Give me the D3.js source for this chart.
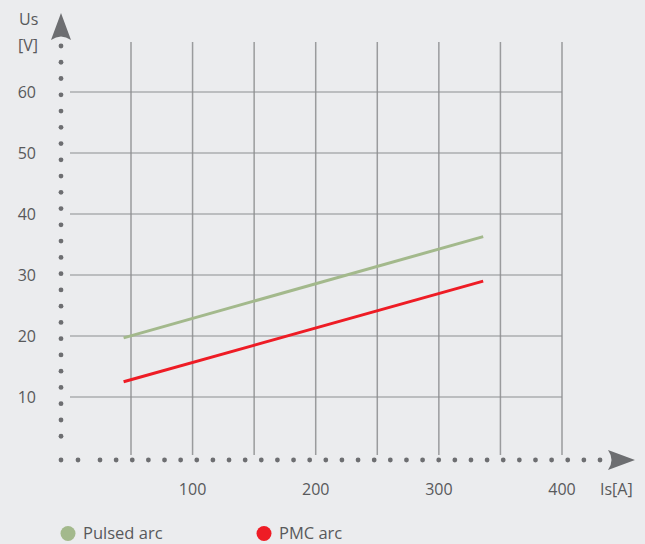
<!DOCTYPE html>
<html>
<head>
<meta charset="utf-8">
<script src="https://cdn.jsdelivr.net/npm/d3@7"></script>
<style>
  body { margin: 0; background: #ebecee; }
  svg { display: block; font-family: "Open Sans", sans-serif; }
</style>
</head>
<body>
<svg id="chart" width="645" height="544"></svg>
<script>
// data
const currentValues = [44, 336];
const pulsedArc = [19.7, 36.3];
const pmcArc = [12.5, 29.0];
const xTicks = [100, 200, 300, 400];
const xGrid = [50, 100, 150, 200, 250, 300, 350, 400];
const yTicks = [10, 20, 30, 40, 50, 60];
const seriesNames = ["Pulsed arc", "PMC arc"];
const seriesColors = ["#a3b98c", "#ee1c25"];

const svg = d3.select('#chart');
const textColor = "#58595b";
const dotColor = "#6d6e71";

const x = d3.scaleLinear().domain([50, 400]).range([131, 562]);
const y = d3.scaleLinear().domain([0, 60]).range([458, 92]);

const gridTop = 42;
const gridBottom = 455;
const gridLeft = 70;

// vertical grid lines
svg.append("g")
    .selectAll("line")
    .data(xGrid)
    .join("line")
    .attr("x1", d => x(d))
    .attr("x2", d => x(d))
    .attr("y1", gridTop)
    .attr("y2", gridBottom)
    .attr("stroke", "#9a9b9d")
    .attr("stroke-width", 1.5);

// horizontal grid lines
svg.append("g")
    .selectAll("line")
    .data(yTicks)
    .join("line")
    .attr("x1", gridLeft)
    .attr("x2", x(400))
    .attr("y1", d => y(d))
    .attr("y2", d => y(d))
    .attr("stroke", "#8c8d8f")
    .attr("stroke-width", 1.2);

// dotted axes
const axisX = 61;
const axisY = 460;
const yDots = d3.range(0, 26).map(i => 46 + i * 16.26).filter(v => v < 452);
yDots.push(axisY);
svg.append("g")
    .selectAll("circle")
    .data(yDots)
    .join("circle")
    .attr("cx", axisX)
    .attr("cy", d => d)
    .attr("r", 2.4)
    .attr("fill", dotColor);

const xDots = [78].concat(d3.range(0, 32).map(i => 100 + i * 500 / 31));
svg.append("g")
    .selectAll("circle")
    .data(xDots)
    .join("circle")
    .attr("cx", d => d)
    .attr("cy", axisY)
    .attr("r", 2.4)
    .attr("fill", dotColor);

// arrow heads
svg.append("path")
    .attr("d", "M61,13 L71,40 Q61,33 51,40 Z")
    .attr("fill", dotColor);
svg.append("path")
    .attr("d", "M635,460 L608,450 Q615,460 608,470 Z")
    .attr("fill", dotColor);

// tick labels
svg.append("g")
    .selectAll("text")
    .data(yTicks)
    .join("text")
    .attr("x", 36)
    .attr("y", d => y(d) + 6)
    .attr("text-anchor", "end")
    .attr("font-size", 16)
    .attr("fill", textColor)
    .text(d => d);

svg.append("g")
    .selectAll("text")
    .data(xTicks)
    .join("text")
    .attr("x", d => x(d))
    .attr("y", 495)
    .attr("text-anchor", "middle")
    .attr("font-size", 16)
    .attr("fill", textColor)
    .text(d => d);

// axis titles
svg.append("text").attr("x", 19).attr("y", 25).attr("font-size", 16).attr("fill", textColor).text("Us");
svg.append("text").attr("x", 18).attr("y", 51).attr("font-size", 16).attr("fill", textColor).text("[V]");
svg.append("text").attr("x", 600).attr("y", 495).attr("font-size", 16).attr("fill", textColor).text("Is[A]");

// series lines
const line = d3.line()
    .x(d => x(d[0]))
    .y(d => y(d[1]));

[pulsedArc, pmcArc].forEach(function(values, i) {
    svg.append("path")
        .datum(currentValues.map((c, j) => [c, values[j]]))
        .attr("d", line)
        .attr("fill", "none")
        .attr("stroke", seriesColors[i])
        .attr("stroke-width", 3);
});

// legend
const legendX = [68, 264];
seriesNames.forEach(function(name, i) {
    svg.append("circle")
        .attr("cx", legendX[i])
        .attr("cy", 533.5)
        .attr("r", 7.5)
        .attr("fill", seriesColors[i]);
    svg.append("text")
        .attr("x", legendX[i] + 15)
        .attr("y", 539)
        .attr("font-size", 16.5)
        .attr("fill", textColor)
        .text(name);
});
</script>
</body>
</html>
